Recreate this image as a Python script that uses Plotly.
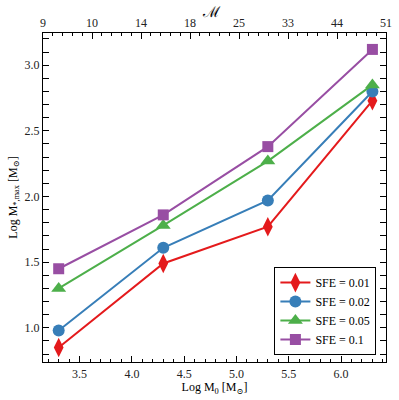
import plotly.graph_objects as go

# Data
log_m0 = [3.3, 4.3, 5.3, 6.3]
sfe_labels = ["SFE = 0.01", "SFE = 0.02", "SFE = 0.05", "SFE = 0.1"]
mstar_001 = [0.85, 1.49, 1.77, 2.73]
mstar_002 = [0.98, 1.61, 1.97, 2.80]
mstar_005 = [1.30, 1.78, 2.27, 2.85]
mstar_01 = [1.45, 1.86, 2.38, 3.12]
mach_ticks = ["9", "10", "14", "18", "25", "33", "44", "51"]

colors = ["#e41a1c", "#377eb8", "#4daf4a", "#984ea3"]
symbols = ["diamond-tall", "circle", "triangle-up", "square"]
sizes = [14, 12, 13, 11]

fig = go.Figure()
for lab, ys, c, s, sz in zip(sfe_labels, [mstar_001, mstar_002, mstar_005, mstar_01],
                             colors, symbols, sizes):
    fig.add_trace(go.Scatter(x=log_m0, y=ys, name=lab, mode="lines+markers",
                             line=dict(color=c, width=2),
                             marker=dict(symbol=s, size=sz, color=c)))

# dummy trace so the top (Mach) axis is drawn
fig.add_trace(go.Scatter(x=[0, len(mach_ticks) - 1], y=[1, 1], xaxis="x2", mode="markers",
                         marker=dict(opacity=0), showlegend=False, hoverinfo="skip"))

font = "Liberation Serif, DejaVu Serif, serif"
axis_common = dict(showline=True, linecolor="black", linewidth=1.2, ticks="inside",
                   ticklen=6, tickwidth=1, tickcolor="black", showgrid=False, zeroline=False,
                   automargin=False,
                   tickfont=dict(family=font, size=12, color="#222"))

fig.update_layout(
    width=399, height=400,
    margin=dict(l=43, r=13, t=33, b=38),
    plot_bgcolor="white", paper_bgcolor="white",
    font=dict(family=font, size=12, color="black"),
    xaxis=dict(range=[3.15, 6.43], dtick=0.5, tick0=3.5, tickformat=".1f",
               minor=dict(dtick=0.1, ticks="inside", ticklen=3, tickcolor="black"),
               title=dict(text="Log M<sub>0</sub> [M<sub>⊙</sub>]", standoff=2,
                          font=dict(family=font, size=12)),
               **axis_common),
    xaxis2=dict(overlaying="x", side="top", range=[0, len(mach_ticks) - 1],
                tickvals=list(range(len(mach_ticks))), ticktext=mach_ticks,
                minor=dict(dtick=0.2, ticks="inside", ticklen=3, tickcolor="black"),
                **axis_common),
    yaxis=dict(range=[0.74, 3.245], dtick=0.5, tickformat=".1f", mirror="allticks",
               minor=dict(dtick=0.1, ticks="inside", ticklen=3, tickcolor="black"),
               title=dict(text="Log M<sub>*,max</sub> [M<sub>⊙</sub>]", standoff=4,
                          font=dict(family=font, size=12)),
               **axis_common),
    legend=dict(x=0.972, y=0.021, xanchor="right", yanchor="bottom",
                bgcolor="white", bordercolor="black", borderwidth=1,
                font=dict(family=font, size=12), itemwidth=30,
                tracegroupgap=0),
)

# top axis label (Mach number)
fig.add_annotation(text="ℳ", xref="paper", yref="paper", x=0.49, y=1.0, yshift=21,
                   showarrow=False, yanchor="middle", font=dict(family=font, size=15))

# drop the browser's default page margin so the figure sits at (0, 0)
fig.write_html("out.html", config={"displayModeBar": False},
               post_script="document.body.style.margin='0';")
